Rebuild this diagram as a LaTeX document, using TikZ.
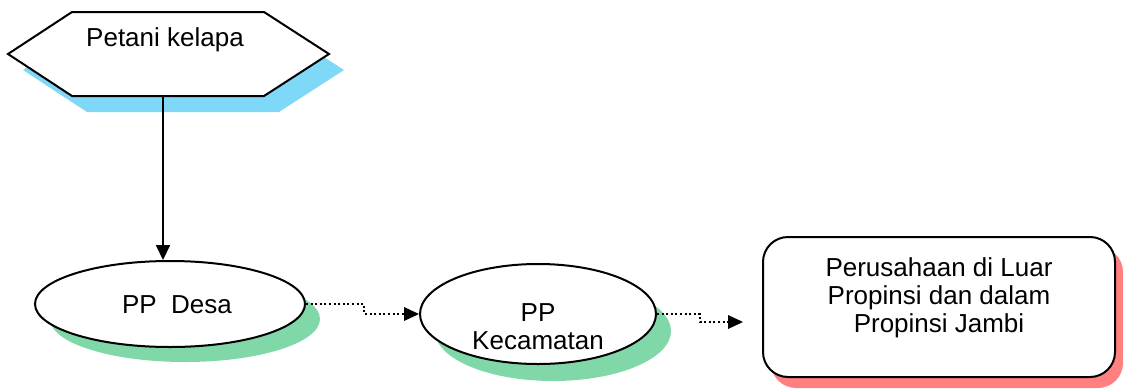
\documentclass[tikz,border=0pt]{standalone}
\usepackage{fontspec}
\setmainfont{Liberation Sans}
\usetikzlibrary{arrows.meta,shapes.geometric}
\definecolor{shblue}{HTML}{80D8F8}
\definecolor{shgreen}{HTML}{80D8A8}
\definecolor{shred}{HTML}{FF8080}
\begin{document}
\begin{tikzpicture}[x=1pt,y=-1pt,
  line width=2pt,
  lbl/.style={font=\fontsize{26}{28}\selectfont, inner sep=0pt, align=center},
  ell/.style={ellipse, draw=black, fill=white, inner sep=0pt},
  ellsh/.style={ellipse, fill=shgreen, draw=none, inner sep=0pt},
  solidarrow/.style={-{Triangle[length=15pt,width=14pt]}},
  dotarrow/.style={dash pattern=on 2pt off 2.6pt, -{Triangle[length=15pt,width=14pt,line width=0pt]}}
]
\useasboundingbox (0,0) rectangle (1123,388);
% hexagon (shadow + outline)
\fill[shblue] (23,70) -- (87,28) -- (279,28) -- (344,70) -- (279,112) -- (87,112) -- cycle;
\draw[fill=white, line join=miter] (8,54) -- (72,12) -- (264,12) -- (329,54) -- (264,96) -- (72,96) -- cycle;
\node[lbl] (petani) at (165,40) {Petani kelapa};
\coordinate (hexbot) at (163,96);
% PP Desa
\node[ellsh, minimum width=270pt, minimum height=86pt] (desash) at (185,319) {};
\node[ell, minimum width=270pt, minimum height=86pt] (desa) at (170,304) {};
\node[lbl] (desatxt) at (177,305) {PP\ \ Desa};
% PP Kecamatan
\node[ellsh, minimum width=236pt, minimum height=100pt] (kecsh) at (553,331) {};
\node[ell, minimum width=236pt, minimum height=100pt] (kec) at (538,314) {};
\node[lbl] (kectxt) at (538,327) {PP\\Kecamatan};
% Company box
\fill[shred, rounded corners=25pt] (771,247) rectangle (1123,388);
\node[draw=black, fill=white, rounded corners=25pt, minimum width=352pt, minimum height=140pt, inner sep=0pt] (per) at (939,307) {};
\node[lbl] (pertxt) at (939,298) {Perusahaan di Luar\\Propinsi dan dalam\\Propinsi Jambi};
% connectors
\draw[solidarrow] (hexbot) -- (hexbot |- desa.north);
\draw[dotarrow] (desa.east) -- ++(58,0) |- (kec.west);
\coordinate (tip2) at (743,322);
\draw[dotarrow] (kec.east) -- ++(43,0) |- (tip2);
\end{tikzpicture}
\end{document}
